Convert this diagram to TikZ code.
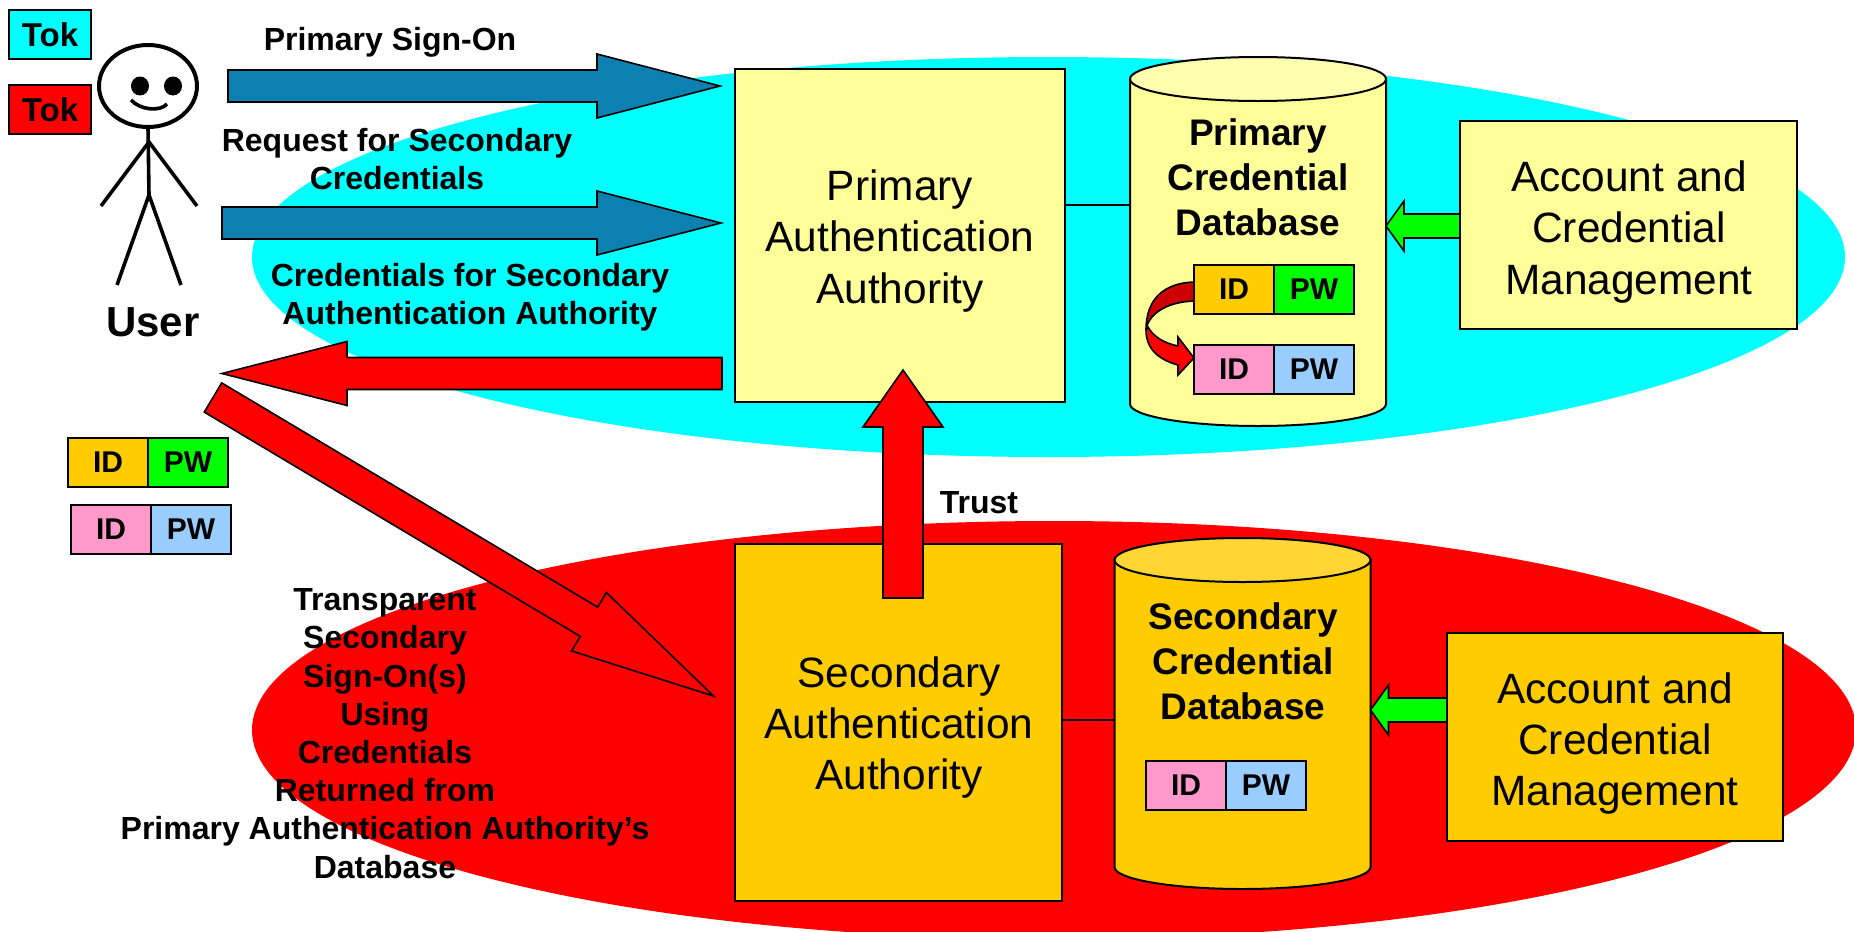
\documentclass[tikz,border=0pt]{standalone}
\usepackage{fontspec}
\setmainfont{Liberation Sans}
\usetikzlibrary{calc, shapes.geometric}

\definecolor{zonecyan}{HTML}{00FFFF}
\definecolor{bluearrow}{HTML}{0C81B1}
\definecolor{paleyellow}{HTML}{FFFF99}
\definecolor{paleyellowtop}{HTML}{FFFFB0}
\definecolor{amber}{HTML}{FFCC00}
\definecolor{ambertop}{HTML}{FFD633}
\definecolor{pinkcell}{HTML}{FF99CC}
\definecolor{bluecell}{HTML}{99CCFF}

\tikzset{
    zone/.style={ellipse, inner sep=0pt, outer sep=0pt},
    authbox/.style={draw=black, line width=1pt, inner sep=0pt, outer sep=0pt},
    authtext/.style={align=center, inner sep=0pt, font=\fontsize{21.2}{25.7}\selectfont},
    dbspot/.style={inner sep=0pt, outer sep=0pt, minimum width=128pt},
    dbtext/.style={align=center, inner sep=0pt, font=\fontsize{18.5}{22.5}\selectfont\bfseries},
    cell/.style={draw=black, line width=1pt, inner sep=0pt, outer sep=0pt, minimum width=40pt, minimum height=24.5pt, font=\fontsize{15}{18}\selectfont\bfseries},
    tok/.style={draw=black, line width=1pt, inner sep=0pt, outer sep=0pt, minimum width=41pt, minimum height=24.5pt, font=\fontsize{16.5}{19}\selectfont\bfseries},
    lbl/.style={align=center, inner sep=0pt, font=\fontsize{16}{19.1}\selectfont\bfseries},
    fatline/.style={draw=black, line width=0.8pt, line join=miter},
    stick/.style={draw=black, line width=1.8pt}
}

% from, to, half shaft, half head, head length
\newcommand{\fatarrow}[6]{
    \coordinate (fatbase) at ($(#3)!#6!(#2)$);
    \draw[fatline, fill=#1] ($(#2)!#4!90:(#3)$) -- ($(fatbase)!#4!-90:(#2)$) -- ($(fatbase)!#5!-90:(#2)$) -- (#3)
        -- ($(fatbase)!#5!90:(#2)$) -- ($(fatbase)!#4!90:(#2)$) -- ($(#2)!#4!-90:(#3)$) -- cycle;
}

% drum around a named spot, body colour, top colour
\newcommand{\drum}[3]{
    \draw[line width=1pt, fill=#2] ($(#1.north west)+(0pt,-11pt)$) -- ($(#1.south west)+(0pt,11pt)$)
        arc[start angle=180, end angle=360, x radius=64pt, y radius=11pt] -- ($(#1.north east)+(0pt,-11pt)$) -- cycle;
    \draw[line width=1pt, fill=#3] ($(#1.north)+(0pt,-11pt)$) ellipse[x radius=64pt, y radius=11pt];
}

\begin{document}
\begin{tikzpicture}[x=0.5pt,y=-0.5pt]
    \clip (0,0) rectangle (1854,932);
    \useasboundingbox (0,0) rectangle (1854,932);

    % background zones
    \node[zone, fill=zonecyan, minimum width=796.5pt, minimum height=200pt] (primaryzone) at (1048.5,257) {};
    \node[zone, fill=red, minimum width=802pt, minimum height=209pt] (secondaryzone) at (1054,730) {};

    % primary side
    \node[authbox, fill=paleyellow, minimum width=165pt, minimum height=166.5pt] (primaryauth) at (900,235.5) {};
    \node[authtext] (primaryauthtext) at (900,241) {Primary\\Authentication\\Authority};
    \node[dbspot, minimum height=184.5pt] (primarydb) at (1258,241.5) {};
    \drum{primarydb}{paleyellow}{paleyellowtop}
    \node[dbtext] (primarydbtext) at (1258,177) {Primary\\Credential\\Database};
    \node[authbox, fill=paleyellow, minimum width=168.5pt, minimum height=104pt] (primarymgmt) at (1628.5,225) {};
    \node[authtext] (primarymgmttext) at (1629,232) {Account and\\Credential\\Management};

    % secondary side
    \node[authbox, fill=amber, minimum width=163.5pt, minimum height=178.5pt] (secondaryauth) at (898.5,722.5) {};
    \node[authtext] (secondaryauthtext) at (899,727.5) {Secondary\\Authentication\\Authority};
    \node[dbspot, minimum height=175.5pt] (secondarydb) at (1242.5,713.5) {};
    \drum{secondarydb}{amber}{ambertop}
    \node[dbtext] (secondarydbtext) at (1243,661) {Secondary\\Credential\\Database};
    \node[authbox, fill=amber, minimum width=168pt, minimum height=104pt] (secondarymgmt) at (1615,737) {};
    \node[authtext] (secondarymgmttext) at (1615,743.5) {Account and\\Credential\\Management};

    \draw[line width=0.8pt] (primaryauth.east |- 0,205) -- (primarydb.west |- 0,205);
    \draw[line width=0.8pt] (secondaryauth.east |- 0,720) -- (secondarydb.west |- 0,720);

    % id and password cells
    \node[cell, fill=amber] (idone) at (1234,289.5) {ID};
    \node[cell, fill=green, anchor=west] (pwone) at (idone.east) {PW};
    \node[cell, fill=pinkcell] (idtwo) at (1234,369) {ID};
    \node[cell, fill=bluecell, anchor=west] (pwtwo) at (idtwo.east) {PW};
    \node[cell, fill=pinkcell] (idthree) at (1186,785) {ID};
    \node[cell, fill=bluecell, anchor=west] (pwthree) at (idthree.east) {PW};
    \node[cell, fill=amber] (idfour) at (108,462.5) {ID};
    \node[cell, fill=green, anchor=west] (pwfour) at (idfour.east) {PW};
    \node[cell, fill=pinkcell] (idfive) at (111,529.5) {ID};
    \node[cell, fill=bluecell, anchor=west] (pwfive) at (idfive.east) {PW};

    % small curved arrow between the cells
    \draw[line width=0.8pt, fill=red!80!black] (idone.west |- 0,282) .. controls (1165,283) and (1146,298) .. (1146,330)
        .. controls (1148,315) and (1165,302) .. (idone.west |- 0,301) -- cycle;
    \draw[line width=0.8pt, fill=red] (1148,327) .. controls (1153,336) and (1163,343) .. (1178,346) -- (1178,337) -- (idtwo.west |- 0,358)
        -- (1178,375) -- (1178,365) .. controls (1160,360) and (1146,350) .. (1146,330) -- cycle;

    % tokens
    \node[tok, fill=zonecyan] (tokcyan) at (50,34.5) {Tok};
    \node[tok, fill=red] (tokred) at (50,109.5) {Tok};

    % user
    \node[draw=black, line width=2pt, ellipse, fill=white, minimum width=49pt, minimum height=41pt, inner sep=0pt, outer sep=0pt] (head) at (148,86) {};
    \node[fill=black, ellipse, minimum width=9pt, minimum height=9.5pt, inner sep=0pt] (lefteye) at (140,86) {};
    \node[fill=black, ellipse, minimum width=9pt, minimum height=9.5pt, inner sep=0pt] (righteye) at (173,86) {};
    \draw[stick] (131,100) .. controls (140,110) and (160,112) .. (167,104);
    \coordinate (shoulder) at (149,142);
    \coordinate (hip) at (149,195);
    \coordinate (lefthand) at (101,206);
    \coordinate (righthand) at (197,206);
    \coordinate (leftfoot) at (117,285);
    \coordinate (rightfoot) at (181,285);
    \draw[stick] (head.south) -- (hip);
    \draw[stick] (lefthand) -- (shoulder) -- (righthand);
    \draw[stick] (leftfoot) -- (hip) -- (rightfoot);
    \node[font=\fontsize{21}{25}\selectfont\bfseries, inner sep=0pt] (usertext) at (153,322) {User};

    % big arrows
    \coordinate (signonstart) at (228,86);
    \coordinate (signontip) at (720,86);
    \coordinate (requeststart) at (222,223);
    \coordinate (requesttip) at (721,223);
    \coordinate (creditstart) at (722,373.5);
    \coordinate (credittip) at (222,373.5);
    \coordinate (sweepstart) at (213,397.5);
    \coordinate (sweeptip) at (713.5,696);
    \coordinate (truststart) at (903,598);
    \coordinate (trusttip) at (903,370);
    \coordinate (greenonestart) at (primarymgmt.west |- 0,226);
    \coordinate (greenonetip) at (primarydb.east |- 0,226);
    \coordinate (greentwostart) at (secondarymgmt.west |- 0,710);
    \coordinate (greentwotip) at (secondarydb.east |- 0,710);
    \fatarrow{bluearrow}{signonstart}{signontip}{8pt}{16pt}{61.5pt}
    \fatarrow{bluearrow}{requeststart}{requesttip}{8pt}{16pt}{62pt}
    \fatarrow{red}{creditstart}{credittip}{8pt}{16pt}{62.5pt}
    \fatarrow{red}{sweepstart}{sweeptip}{8.5pt}{17pt}{72.5pt}
    \fatarrow{red}{truststart}{trusttip}{10pt}{20pt}{28.5pt}
    \fatarrow{green}{greenonestart}{greenonetip}{6pt}{12.5pt}{9pt}
    \fatarrow{green}{greentwostart}{greentwotip}{6pt}{12.5pt}{9pt}

    % labels
    \node[lbl] (signonlabel) at (390,42.5) {Primary Sign-On};
    \node[lbl] (requestlabel) at (397,159) {Request for Secondary\\Credentials};
    \node[lbl] (creditlabel) at (470,297.5) {Credentials for Secondary\\Authentication Authority};
    \node[lbl] (trustlabel) at (979,503) {Trust};
    \node[lbl] (sweeplabel) at (385,733.5) {Transparent\\Secondary\\Sign-On(s)\\Using\\Credentials\\Returned from\\Primary Authentication Authority’s\\Database};
\end{tikzpicture}
\end{document}
